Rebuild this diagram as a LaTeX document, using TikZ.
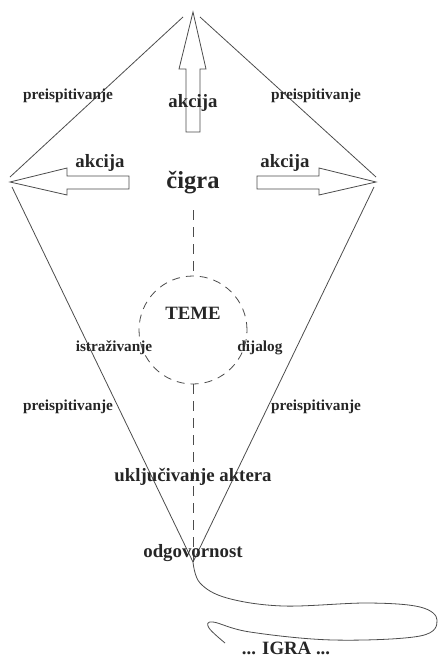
\documentclass[tikz,border=0pt]{standalone}
\usepackage{fontspec}
\setmainfont{Liberation Serif}
\usetikzlibrary{arrows.meta}

\begin{document}
\begin{tikzpicture}[x=1pt, y=-1pt, line width=0.8pt,
  every node/.style={text=black!85, inner sep=1pt},
  small/.style={font=\fontsize{15.3}{18}\selectfont\bfseries},
  mid/.style={font=\fontsize{18.8}{22}\selectfont\bfseries},
  big/.style={font=\fontsize{24.5}{28}\selectfont\bfseries},
  kite/.style={draw=black!70},
  blockarrow/.style={draw=black!70, fill=white},
  spine/.style={draw=black!70, dash pattern=on 10pt off 7pt}]
\useasboundingbox (0,0) rectangle (439,658);
% corners of the kite
\coordinate (top) at (193,12);
\coordinate (left) at (10,182);
\coordinate (right) at (376,182);
\coordinate (bottom) at (193,562);
\coordinate (topl) at (183,17);
\coordinate (topr) at (200,17);
\coordinate (leftu) at (10,177);
\coordinate (leftd) at (12,187);
\coordinate (rightu) at (376,177);
\coordinate (rightd) at (374,187);
\draw[kite] (leftu) -- (topl);
\draw[kite] (topr) -- (rightu);
\draw[kite] (leftd) -- (bottom);
\draw[kite] (rightd) -- (bottom);
% block arrows
\draw[blockarrow] (top) -- (206,69) -- (200,69) -- (200,132) -- (186,132) -- (186,69) -- (179,69) -- cycle;
\draw[blockarrow] (left) -- (67,168) -- (67,176) -- (129,176) -- (129,189) -- (67,189) -- (67,195) -- cycle;
\draw[blockarrow] (right) -- (319,168) -- (319,176) -- (257,176) -- (257,189) -- (319,189) -- (319,195) -- cycle;
% centre
\node[big] (cigra) at (193,183) {čigra};
\node[circle, minimum size=108pt, draw=black!70, dash pattern=on 8pt off 6pt] (teme) at (193,330) {};
\node[mid] (temetext) at (193,313) {TEME};
\draw[spine] (193,210) -- (teme.north);
\draw[spine] (teme.south) -- (bottom);
% labels
\node[small] (preis1) at (68,96) {preispitivanje};
\node[small] (preis2) at (316,96) {preispitivanje};
\node[small] (preis3) at (68,407) {preispitivanje};
\node[small] (preis4) at (316,407) {preispitivanje};
\node[mid] (akcija1) at (193,103) {akcija};
\node[mid] (akcija2) at (100,163) {akcija};
\node[mid] (akcija3) at (285,163) {akcija};
\node[small] (istraz) at (114,348) {istraživanje};
\node[small] (dijalog) at (260,348) {dijalog};
\node[mid] (ukljuc) at (193,477) {uključivanje aktera};
\node[mid] (odgov) at (193,553) {odgovornost};
\node[mid] (igra) at (286,648) {... IGRA ...};
% tail
\draw[kite] plot[smooth, tension=0.6] coordinates {(bottom) (200,583) (227,598) (283,606) (367,603) (420,607) (437,620) (420,636) (333,640) (250,632) (213,622) (209,628) (225,643)};
\end{tikzpicture}
\end{document}
